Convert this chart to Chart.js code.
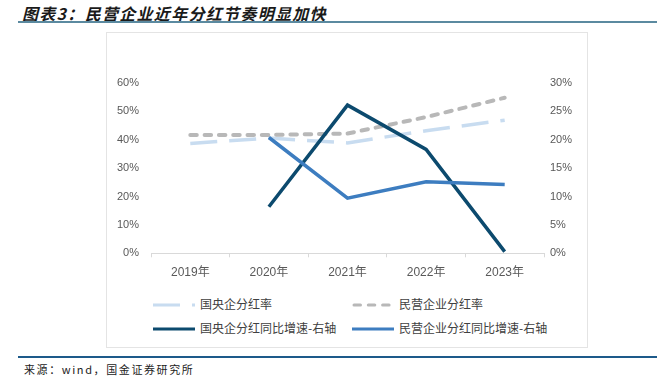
<!DOCTYPE html>
<html>
<head>
<meta charset="utf-8">
<script src="https://cdn.jsdelivr.net/npm/chart.js@4.4.1/dist/chart.umd.min.js"></script>
<style>
  html, body { margin: 0; padding: 0; background: #fff; }
  body { width: 657px; height: 378px; position: relative; overflow: hidden;
         font-family: "Liberation Sans", "Noto Sans CJK SC", sans-serif; }
  .title { position: absolute; left: 22px; top: 1px; font-size: 16px; font-weight: bold;
           font-style: italic; letter-spacing: 1.3px; color: #1a1a1a;
           font-family: "Noto Sans CJK SC", sans-serif; }
  .rule-top { position: absolute; left: 18px; right: 0; top: 21px; height: 2px; background: #5b8aa0; }
  .box { position: absolute; left: 106px; top: 32px; width: 480px; height: 314px;
         border: 1.5px solid #e4e4e4; }
  .chart-wrap { position: absolute; left: 106px; top: 32px; width: 482px; height: 260px; }
  .legend { position: absolute; font-size: 12px; color: #404040;
            font-family: "Noto Sans CJK SC", sans-serif; }
  .legend .item { position: absolute; white-space: nowrap; height: 16px; }
  .legend svg { position: absolute; left: 0; top: 0; }
  .legend span { position: absolute; top: -1px; line-height: 16px; }
  .rule-bottom { position: absolute; left: 18px; right: 0; top: 356px; height: 2px; background: #1d5a8a; }
  .source { position: absolute; left: 24px; top: 361px; font-size: 11px; letter-spacing: 1.6px;
            color: #222; font-family: "Noto Sans CJK SC", sans-serif; }
</style>
</head>
<body>
<div class="title">图表3：民营企业近年分红节奏明显加快</div>
<div class="rule-top"></div>
<div class="box"></div>
<div class="chart-wrap"><canvas id="divChart" width="482" height="260"></canvas></div>
<div class="legend" id="legend"></div>
<div class="rule-bottom"></div>
<div class="source">来源：wind，国金证券研究所</div>

<script>
// data (percent)
const categories = ['2019年', '2020年', '2021年', '2022年', '2023年'];
const soeRate = [38.7, 40.6, 38.9, 43.2, 46.9];       // 国央企分红率, left axis
const privRate = [41.7, 41.7, 42.2, 48.0, 54.8];      // 民营企业分红率, left axis
const soeGrowth = [null, 8.2, 26.1, 18.3, 0.3];       // 国央企分红同比增速, right axis
const privGrowth = [null, 20.4, 9.7, 12.6, 12.1];     // 民营企业分红同比增速, right axis
const leftTicks = [0, 10, 20, 30, 40, 50, 60];
const rightTicks = [0, 5, 10, 15, 20, 25, 30];

const seriesNames = ['国央企分红率', '民营企业分红率', '国央企分红同比增速-右轴', '民营企业分红同比增速-右轴'];

const tickFont = { family: '"Liberation Sans", "Noto Sans CJK SC", sans-serif', size: 11 };

const ctx = document.getElementById('divChart');
const chart = new Chart(ctx, {
    type: 'line',
    data: {
        labels: categories,
        datasets: [
            {
                label: seriesNames[0],
                data: soeRate,
                yAxisID: 'y',
                borderColor: '#c8dcf0',
                borderWidth: 3.5,
                borderDash: [27, 12],
                order: 3
            },
            {
                label: seriesNames[1],
                data: privRate,
                yAxisID: 'y',
                borderColor: '#b8b8b8',
                borderWidth: 4,
                borderDash: [6.5, 7.8],
                borderCapStyle: 'round',
                order: 2
            },
            {
                label: seriesNames[2],
                data: soeGrowth,
                yAxisID: 'y1',
                borderColor: '#0c4a6e',
                borderWidth: 3.5,
                order: 1
            },
            {
                label: seriesNames[3],
                data: privGrowth,
                yAxisID: 'y1',
                borderColor: '#3d7dc0',
                borderWidth: 3.5,
                order: 0
            }
        ]
    },
    options: {
        responsive: false,
        animation: false,
        devicePixelRatio: 1,
        layout: { padding: { top: 51, left: 0, right: 0, bottom: 0 } },
        elements: { point: { radius: 0, hoverRadius: 0 }, line: { tension: 0 } },
        plugins: { legend: { display: false }, tooltip: { enabled: false } },
        scales: {
            x: {
                offset: true,
                grid: {
                    display: true,
                    offset: true,
                    drawOnChartArea: false,
                    drawTicks: true,
                    tickLength: 4,
                    color: '#d9d9d9'
                },
                border: { display: true, color: '#d9d9d9', width: 1 },
                ticks: { color: '#595959', font: { ...tickFont, size: 12 }, padding: 8, maxRotation: 0 },
                afterFit: s => { s.height = 38.7; }
            },
            y: {
                position: 'left',
                min: leftTicks[0],
                max: leftTicks[leftTicks.length - 1],
                grid: { display: false, drawTicks: false },
                border: { display: false },
                afterBuildTicks: s => { s.ticks = leftTicks.map(v => ({ value: v })); },
                ticks: { color: '#595959', font: tickFont, padding: 12, callback: v => v + '%' },
                afterFit: s => { s.width = 45; }
            },
            y1: {
                position: 'right',
                min: rightTicks[0],
                max: rightTicks[rightTicks.length - 1],
                grid: { display: false, drawTicks: false },
                border: { display: false },
                afterBuildTicks: s => { s.ticks = rightTicks.map(v => ({ value: v })); },
                ticks: { color: '#595959', font: tickFont, padding: 6, callback: v => v + '%' },
                afterFit: s => { s.width = 44; }
            }
        }
    }
});

// HTML legend, 2 x 2 grid, built from the datasets
const legendPos = [
    { x: 153, y: 297 },
    { x: 352, y: 297 },
    { x: 153, y: 321 },
    { x: 352, y: 321 }
];
const legendEl = document.getElementById('legend');
chart.data.datasets.forEach((ds, i) => {
    const p = legendPos[i];
    const item = document.createElement('div');
    item.className = 'item';
    item.style.left = p.x + 'px';
    item.style.top = p.y + 'px';
    const w = 42;
    const dash = ds.borderDash ? ds.borderDash.join(' ') : 'none';
    const cap = ds.borderCapStyle === 'round' ? 'round' : 'butt';
    const x1 = cap === 'round' ? 2 : 0;
    item.innerHTML =
        '<svg width="' + w + '" height="16"><line x1="' + x1 + '" y1="8" x2="' + (w - x1) + '" y2="8" stroke="' +
        ds.borderColor + '" stroke-width="3" stroke-dasharray="' + dash + '" stroke-linecap="' + cap + '"/></svg>' +
        '<span style="left:' + (w + 5) + 'px">' + ds.label + '</span>';
    legendEl.appendChild(item);
});
</script>
</body>
</html>
